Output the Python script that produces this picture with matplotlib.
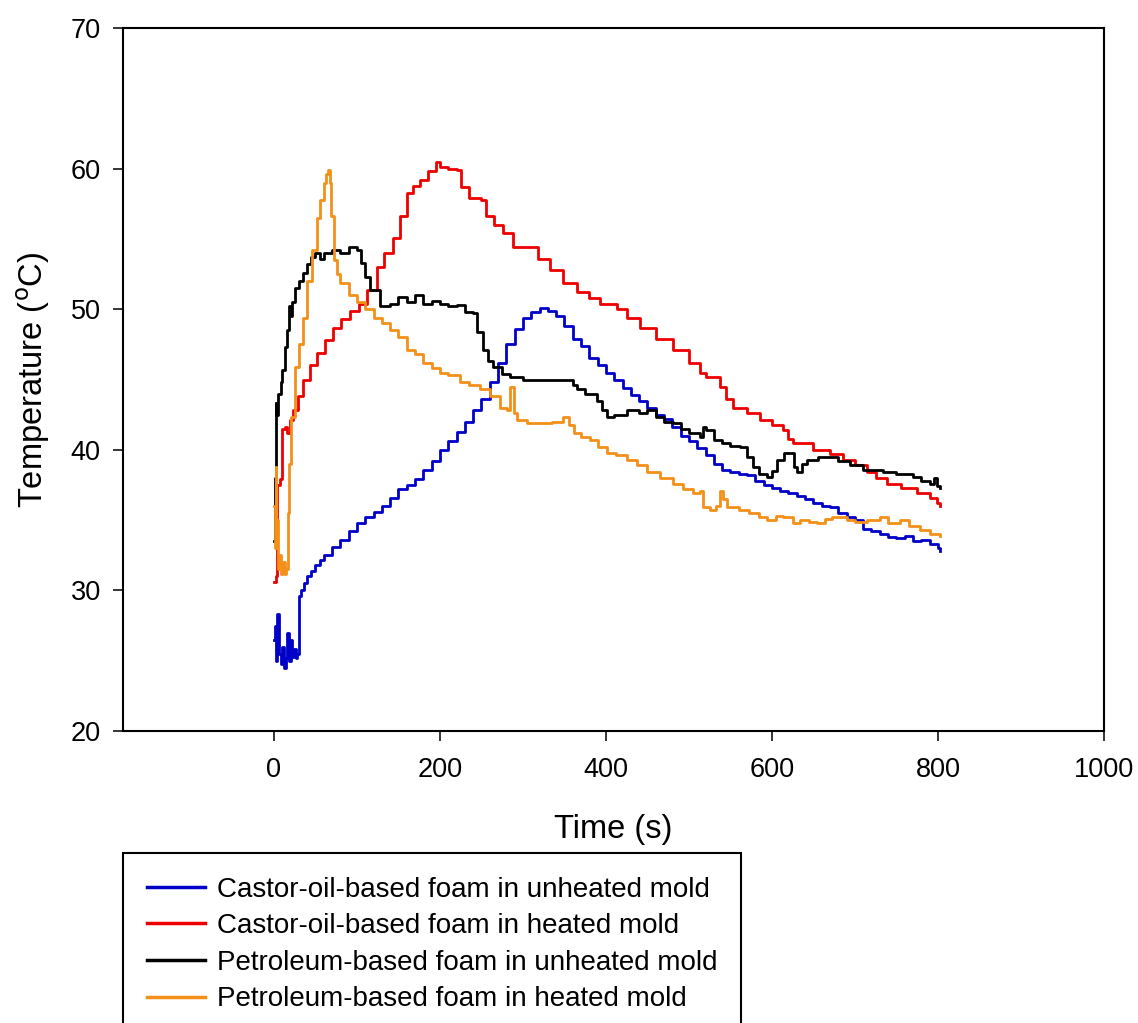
import matplotlib
matplotlib.use('Agg')
import matplotlib.pyplot as plt

plt.rcParams['font.family'] = ['Liberation Sans', 'DejaVu Sans']

# Castor-oil-based foam in unheated mold
castor_cold_t = [0, 1, 3, 4, 6, 8, 10, 12, 14, 16, 18, 20, 22, 24, 26, 28, 30, 32, 36, 40,
                 45, 50, 55, 60, 70, 80, 90, 100, 110, 120, 130, 140, 150, 160, 170, 180, 190,
                 200, 210, 220, 230, 240, 250, 260, 270, 280, 290, 300, 310, 320, 330, 340,
                 350, 360, 370, 380, 390, 400, 410, 420, 430, 440, 450, 460, 470, 480, 490,
                 500, 510, 520, 530, 540, 550, 560, 570, 580, 590, 600, 610, 620, 630, 640,
                 650, 660, 670, 680, 690, 700, 710, 720, 730, 740, 750, 760, 770, 780, 790,
                 800, 803]
castor_cold_T = [26.5, 27.5, 25.0, 28.3, 25.5, 24.8, 26.0, 24.5, 25.2, 27.0, 25.0, 26.5, 25.3,
                 25.8, 25.2, 25.5, 29.6, 30.0, 30.5, 31.0, 31.4, 31.8, 32.2, 32.5, 33.1, 33.6,
                 34.2, 34.8, 35.2, 35.6, 36.0, 36.6, 37.2, 37.5, 37.9, 38.6, 39.2, 40.0, 40.6,
                 41.3, 42.0, 42.8, 43.6, 44.8, 46.2, 47.5, 48.6, 49.4, 49.8, 50.1, 49.9, 49.5,
                 48.8, 47.9, 47.4, 46.5, 46.0, 45.5, 45.0, 44.4, 43.9, 43.5, 43.0, 42.5, 42.2,
                 41.6, 41.0, 40.6, 40.1, 39.6, 39.0, 38.6, 38.4, 38.3, 38.2, 37.8, 37.5, 37.3,
                 37.1, 36.9, 36.7, 36.5, 36.2, 36.0, 35.9, 35.5, 35.2, 35.0, 34.4, 34.2, 34.0,
                 33.8, 33.7, 33.9, 33.5, 33.6, 33.3, 33.0, 32.8]

# Castor-oil-based foam in heated mold
castor_hot_t = [0, 2, 4, 7, 10, 13, 16, 19, 23, 29, 35, 43, 52, 61, 71, 81, 92, 102, 112, 124,
                133, 143, 152, 160, 168, 176, 186, 195, 200, 210, 220, 225, 235, 250, 255, 265,
                276, 288, 308, 318, 333, 348, 365, 380, 393, 413, 425, 441, 460, 481, 500, 513,
                521, 537, 545, 553, 570, 586, 600, 613, 620, 625, 650, 670, 686, 700, 714, 725,
                739, 755, 775, 790, 799, 803]
castor_hot_T = [30.6, 31.0, 37.5, 37.9, 41.5, 41.6, 41.2, 42.1, 42.8, 43.8, 45.0, 46.0, 46.9,
                47.8, 48.7, 49.3, 49.9, 50.4, 51.4, 53.0, 54.0, 55.1, 56.6, 58.3, 58.8, 59.2,
                59.8, 60.5, 60.1, 60.0, 59.9, 58.7, 57.9, 57.8, 56.6, 56.0, 55.4, 54.4, 54.4,
                53.6, 52.8, 51.9, 51.2, 50.8, 50.4, 50.0, 49.4, 48.7, 47.9, 47.1, 46.2, 45.5,
                45.2, 44.5, 43.6, 43.0, 42.6, 42.1, 41.8, 41.4, 40.8, 40.5, 40.0, 39.7, 39.3,
                38.9, 38.4, 38.0, 37.6, 37.3, 36.9, 36.6, 36.2, 36.0]

# Petroleum-based foam in unheated mold
petro_cold_t = [0, 1, 2, 3, 5, 8, 10, 13, 16, 18, 20, 22, 25, 30, 35, 40, 45, 50, 55, 60, 70,
                80, 90, 100, 105, 110, 116, 128, 140, 150, 160, 170, 180, 190, 200, 210,
                220, 230, 240, 245, 252, 258, 264, 275, 284, 300, 320, 340, 353, 360, 365, 375,
                389, 395, 401, 410, 425, 440, 449, 460, 470, 481, 490, 500, 513, 517, 521, 530,
                540, 550, 561, 570, 577, 585, 594, 600, 606, 614, 622, 627, 630, 636, 642, 655,
                666, 680, 694, 710, 734, 750, 770, 780, 790, 795, 799, 803]
petro_cold_T = [33.5, 38.0, 43.3, 42.5, 44.0, 44.8, 45.7, 47.3, 48.5, 50.2, 49.5, 50.5, 51.5,
                52.0, 52.6, 53.2, 53.7, 54.0, 53.6, 54.0, 54.2, 54.0, 54.4, 54.2, 53.3, 52.3,
                51.4, 50.2, 50.4, 50.9, 50.5, 51.0, 50.4, 50.6, 50.4, 50.2, 50.3, 49.8,
                49.7, 48.4, 47.1, 46.3, 45.9, 45.4, 45.2, 45.0, 45.0, 45.0, 45.0, 44.6, 44.3,
                44.0, 43.5, 42.8, 42.3, 42.5, 42.8, 42.6, 42.8, 42.3, 42.0, 41.9, 41.5, 41.2,
                40.9, 41.6, 41.4, 40.7, 40.5, 40.3, 40.2, 39.5, 38.8, 38.3, 38.1, 38.5, 39.3,
                39.8, 39.8, 38.8, 38.4, 39.0, 39.3, 39.5, 39.5, 39.2, 38.9, 38.6, 38.4, 38.3,
                38.1, 37.8, 37.6, 38.0, 37.4, 37.3]

# Petroleum-based foam in heated mold
petro_hot_t = [0, 1, 2, 3, 5, 7, 9, 11, 13, 15, 17, 18, 20, 25, 30, 35, 40, 46, 52, 56, 60, 63,
               65, 67, 69, 72, 76, 80, 90, 100, 110, 120, 130, 140, 150, 160, 170, 180, 190,
               200, 210, 224, 235, 248, 260, 272, 281, 285, 289, 293, 305, 320, 335, 348, 355,
               361, 370, 381, 390, 401, 412, 425, 437, 449, 465, 481, 493, 505, 513, 517, 525,
               533, 537, 541, 546, 560, 573, 585, 594, 605, 613, 625, 634, 645, 654, 664, 673,
               690, 700, 714, 730, 740, 754, 765, 778, 790, 803]
petro_hot_T = [36.0, 33.0, 38.8, 35.0, 31.5, 32.5, 31.2, 32.0, 31.2, 31.5, 35.5, 39.0, 42.3,
               45.9, 47.5, 49.4, 52.0, 54.2, 56.5, 57.8, 59.0, 59.6, 59.9, 59.0, 56.6, 53.5,
               52.5, 51.9, 51.0, 50.5, 50.0, 49.4, 49.0, 48.5, 48.0, 47.1, 46.8, 46.2, 45.8,
               45.5, 45.3, 44.8, 44.6, 44.3, 43.8, 43.0, 42.8, 44.5, 42.6, 42.1, 41.9, 41.9,
               42.0, 42.3, 41.8, 41.2, 40.9, 40.7, 40.2, 39.8, 39.6, 39.3, 38.9, 38.4, 38.0,
               37.6, 37.2, 36.9, 37.1, 35.9, 35.7, 36.0, 37.1, 36.5, 35.9, 35.7, 35.5, 35.2,
               35.0, 35.3, 35.2, 34.8, 35.0, 34.9, 34.8, 35.1, 35.2, 35.0, 34.9, 35.0, 35.2,
               34.8, 35.0, 34.6, 34.3, 34.0, 33.9]

labels = ['Castor-oil-based foam in unheated mold',
          'Castor-oil-based foam in heated mold',
          'Petroleum-based foam in unheated mold',
          'Petroleum-based foam in heated mold']
colors = ['#0000c8', '#ee0000', '#000000', '#f39019']

fig = plt.figure(figsize=(11.38, 10.23), dpi=100)
ax = fig.add_axes([0.108, 0.2854, 0.862, 0.6872])

series = [(castor_cold_t, castor_cold_T), (castor_hot_t, castor_hot_T),
          (petro_cold_t, petro_cold_T), (petro_hot_t, petro_hot_T)]
lines = []
for (t, T), c, lab in zip(series, colors, labels):
    ln, = ax.plot(t, T, color=c, lw=2.0, drawstyle='steps-post', label=lab)
    lines.append(ln)

ax.set_xlim(-182, 1000)
ax.set_ylim(20, 70)
ax.set_xticks([0, 200, 400, 600, 800, 1000])
ax.set_yticks([20, 30, 40, 50, 60, 70])
ax.tick_params(direction='out', length=7, width=1.1, labelsize=19.5, top=False, right=False)
ax.tick_params(axis='x', pad=12)
ax.tick_params(axis='y', pad=9)
for s in ax.spines.values():
    s.set_linewidth(1.5)

ax.set_xlabel('Time (s)', fontsize=23.5, labelpad=22)
ax.set_ylabel('Temperature ($^{\\rm o}$C)', fontsize=23.5, labelpad=13)

leg = fig.legend(handles=lines, loc='upper left', bbox_to_anchor=(0.108, 0.1662),
                 bbox_transform=fig.transFigure, borderaxespad=0, fontsize=20,
                 fancybox=False, framealpha=1, edgecolor='black', borderpad=0.85,
                 handlelength=2.1, handletextpad=0.45, labelspacing=0.38)
leg.get_frame().set_linewidth(1.5)
for h in leg.legend_handles:
    h.set_linewidth(2.5)

fig.savefig('out.png', dpi=100)
